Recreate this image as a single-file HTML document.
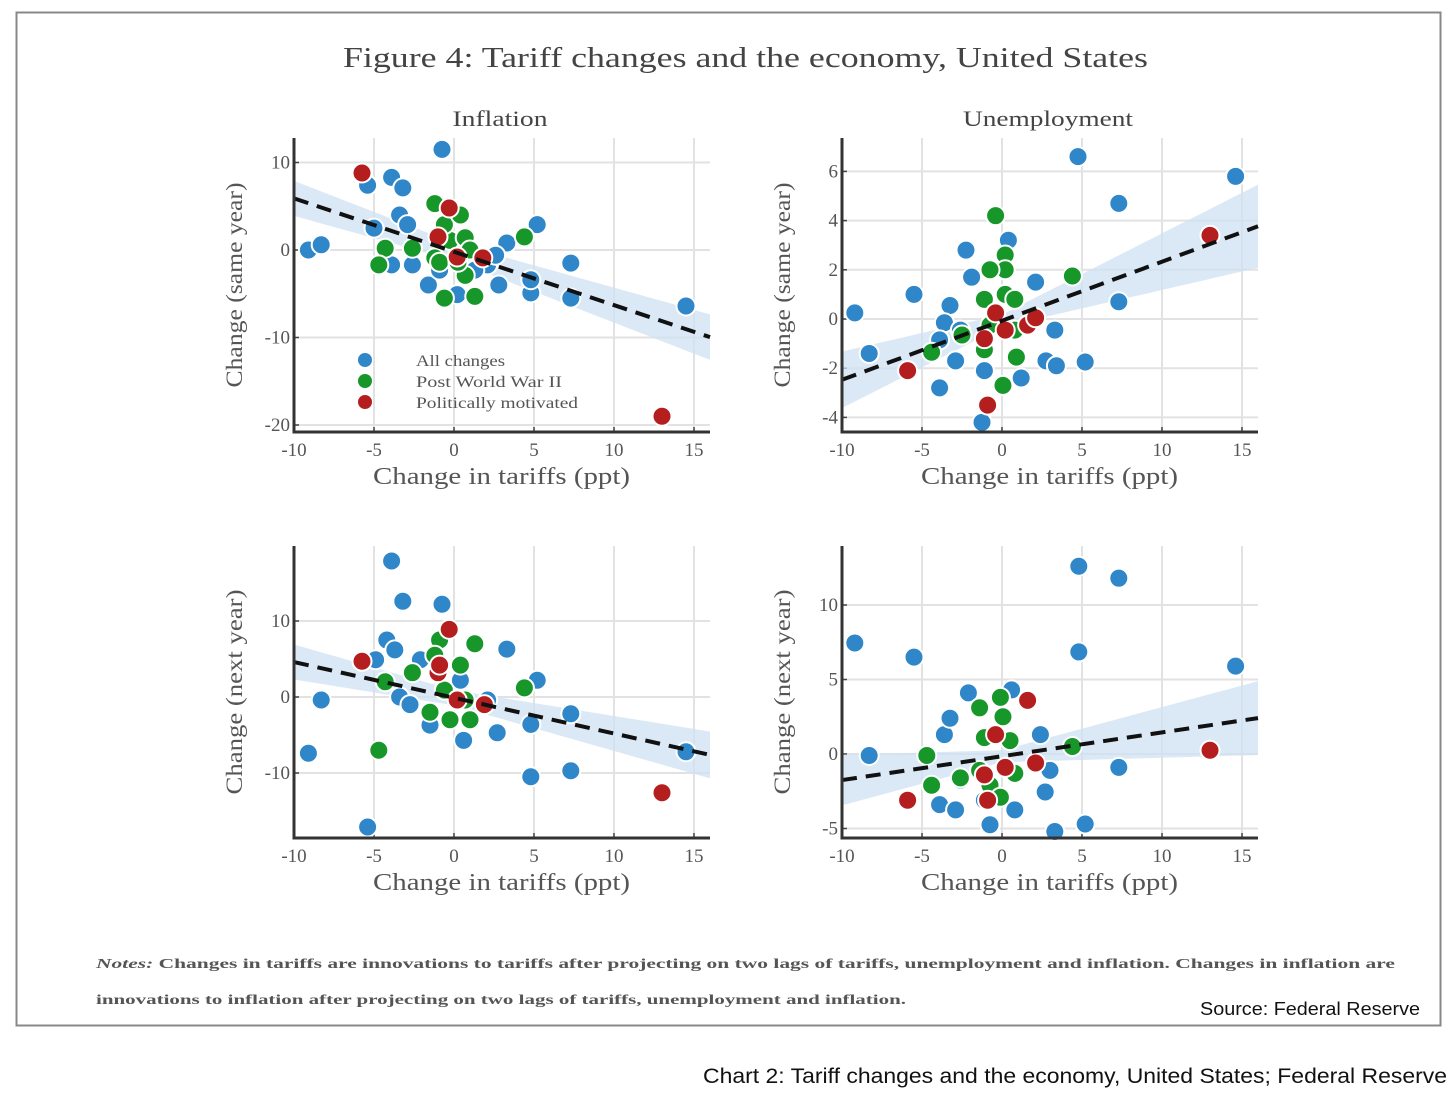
<!DOCTYPE html>
<html><head><meta charset="utf-8">
<style>
html,body{margin:0;padding:0;background:#fff;}
body{width:1456px;height:1093px;position:relative;overflow:hidden;}
svg{position:absolute;left:0;top:0;}
</style></head>
<body>
<svg id="chart" width="1456" height="1093" xmlns="http://www.w3.org/2000/svg">
<rect x="16.5" y="12.5" width="1424" height="1013" fill="#fff" stroke="#888" stroke-width="2"/>
<text x="343" y="67" textLength="805" lengthAdjust="spacingAndGlyphs" font-family="Liberation Serif, serif" font-size="29" fill="#444">Figure 4:  Tariff changes and the economy, United States</text>
<text x="96" y="968" textLength="1299" lengthAdjust="spacingAndGlyphs" font-family="Liberation Serif, serif" font-size="13.5" font-weight="bold" fill="#555"><tspan font-style="italic">Notes:</tspan>  Changes in tariffs are innovations to tariffs after projecting on two lags of tariffs, unemployment and inflation.  Changes in inflation are</text>
<text x="96" y="1004" textLength="810" lengthAdjust="spacingAndGlyphs" font-family="Liberation Serif, serif" font-size="13.5" font-weight="bold" fill="#555">innovations to inflation after projecting on two lags of tariffs, unemployment and inflation.</text>
<text x="1200" y="1015" textLength="220" lengthAdjust="spacingAndGlyphs" font-family="Liberation Sans, sans-serif" font-size="18" fill="#111">Source: Federal Reserve</text>
<text x="703" y="1083" textLength="744" lengthAdjust="spacingAndGlyphs" font-family="Liberation Sans, sans-serif" font-size="21" fill="#111">Chart 2: Tariff changes and the economy, United States; Federal Reserve</text>
</svg>
<script>
// ---- Panel 1: Inflation, same year ----
const p1BlueX=[-9.1,-8.3,-5.4,-3.9,-3.2,-0.75,-5,-3.4,-2.9,-3.9,-2.6,-1.6,0.2,2.1,2.8,3.3,5.2,4.8,4.8,7.3,7.3,14.5,-0.9,1.3,2.6];
const p1BlueY=[0,0.6,7.4,8.3,7.1,11.5,2.5,4,2.9,-1.7,-1.7,-4,-5.1,-1.7,-4,0.8,2.9,-4.9,-3.4,-1.5,-5.5,-6.4,-2.3,-2.3,-0.6];
const p1GreenX=[-4.3,-4.7,-2.6,-1.2,-0.6,1.3,4.4,0.7,-1.2,-0.25,0.7,1,-0.6,0.4,-0.9,0.25];
const p1GreenY=[0.2,-1.7,0.2,5.3,-5.5,-5.3,1.5,-2.9,-0.9,1.1,1.4,0,2.9,4,-1.4,-1.4];
const p1RedX=[-5.75,-0.3,-1,0.2,1.8,13];
const p1RedY=[8.8,4.8,1.5,-0.8,-0.9,-19];
const p1Fit=[-0.2,-0.61];
const p1YTicks=[10,0,-10,-20];
// ---- Panel 2: Unemployment, same year ----
const p2BlueX=[-9.2,-8.3,-5.5,-2.25,-1.9,-3.25,-3.6,-2.9,-3.9,0.4,2.1,3.3,2.75,3.4,1.2,5.2,4.75,7.3,7.3,14.6,-1.25,-1.1,-2.6,-3.9];
const p2BlueY=[0.25,-1.4,1,2.8,1.7,0.55,-0.15,-1.7,-2.8,3.2,1.5,-0.45,-1.7,-1.9,-2.4,-1.75,6.6,4.7,0.7,5.8,-4.2,-2.1,-0.45,-0.85];
const p2GreenX=[-0.4,0.2,0.2,-0.75,0.2,-1.1,0.8,-2.5,-4.4,0.06,0.9,-1.1,4.4,-0.75,0.8];
const p2GreenY=[4.2,2.6,2,2,1,0.8,0.8,-0.65,-1.35,-2.7,-1.55,-1.25,1.75,-0.25,-0.45];
const p2RedX=[-5.9,-0.9,-0.4,-1.1,0.2,1.6,2.1,13];
const p2RedY=[-2.1,-3.5,0.25,-0.8,-0.45,-0.25,0.05,3.4];
const p2Fit=[-0.07,0.24];
const p2YTicks=[6,4,2,0,-2,-4];
// ---- Panel 3: Inflation, next year ----
const p3BlueX=[-9.1,-8.3,-3.9,-3.2,-0.75,-4.2,-3.7,-4.9,-5.4,-3.4,-2.75,-1.5,0.6,2.7,3.3,5.2,4.8,4.8,7.3,7.3,14.5,2.1,-2.1,0.4];
const p3BlueY=[-7.4,-0.4,17.9,12.6,12.2,7.5,6.2,4.9,-17.1,0,-1,-3.7,-5.7,-4.7,6.3,2.2,-3.6,-10.5,-2.2,-9.7,-7.2,-0.4,4.9,2.2];
const p3GreenX=[-4.3,-4.7,-2.6,1.3,4.4,-0.9,-1.2,-0.25,1,-0.6,0.7,-1.5,0.4];
const p3GreenY=[2,-7,3.2,7,1.2,7.5,5.5,-3,-3,0.9,-0.4,-2,4.2];
const p3RedX=[-5.75,-0.3,-1,-0.9,0.2,1.9,13];
const p3RedY=[4.7,8.9,3.2,4.2,-0.4,-1,-12.6];
const p3Fit=[-0.1,-0.47];
const p3YTicks=[10,0,-10];
// ---- Panel 4: Unemployment, next year ----
const p4BlueX=[-9.2,-8.3,-5.5,4.8,7.3,4.8,14.6,7.3,5.2,3.3,2.7,-3.9,-2.9,-0.75,-2.1,0.6,2.4,-3.6,-3.25,3,-1.1,0.8,-2.6];
const p4BlueY=[7.45,-0.1,6.5,12.6,11.8,6.85,5.9,-0.9,-4.7,-5.2,-2.55,-3.4,-3.75,-4.75,4.1,4.3,1.3,1.3,2.4,-1.1,-3.1,-3.75,-1.75];
const p4GreenX=[-4.7,-4.4,-2.6,-0.1,-1.4,0.06,-1.1,0.5,4.4,-1.4,0.8,-0.75,-0.1];
const p4GreenY=[-0.1,-2.1,-1.6,3.8,3.1,2.5,1.1,0.9,0.5,-1.1,-1.3,-2.1,-2.9];
const p4RedX=[-5.9,-0.9,-0.4,-1.1,0.2,1.6,2.1,13];
const p4RedY=[-3.1,-3.1,1.3,-1.4,-0.9,3.6,-0.6,0.25];
const p4Fit=[-0.15,0.16];
const p4YTicks=[10,5,0,-5];
const xTicks=[-10,-5,0,5,10,15];

const NS="http://www.w3.org/2000/svg";
const svg=document.getElementById('chart');
function mk(tag,attrs,parent){const e=document.createElementNS(NS,tag);for(const k in attrs)e.setAttribute(k,attrs[k]);(parent||svg).appendChild(e);return e;}

const panels=[
 {id:'inflation-same-year',title:'Inflation',tw:95,ylab:'Change (same year)',L:294,R:710,T:138,B:432,x0:454,xs:16,y0:250,ys:8.75,yt:p1YTicks,blue:[p1BlueX,p1BlueY],green:[p1GreenX,p1GreenY],red:[p1RedX,p1RedY],fit:p1Fit,band:[1.0,0.1],legend:true},
 {id:'unemployment-same-year',title:'Unemployment',tw:170,ylab:'Change (same year)',L:842,R:1258,T:138,B:432,x0:1002,xs:16,y0:319,ys:24.6,yt:p2YTicks,blue:[p2BlueX,p2BlueY],green:[p2GreenX,p2GreenY],red:[p2RedX,p2RedY],fit:p2Fit,band:[0.25,0.09]},
 {id:'inflation-next-year',title:'',ylab:'Change (next year)',L:294,R:710,T:546,B:838,x0:454,xs:16,y0:697,ys:7.6,yt:p3YTicks,blue:[p3BlueX,p3BlueY],green:[p3GreenX,p3GreenY],red:[p3RedX,p3RedY],fit:p3Fit,band:[1.0,0.13]},
 {id:'unemployment-next-year',title:'',ylab:'Change (next year)',L:842,R:1258,T:546,B:838,x0:1002,xs:16,y0:754,ys:14.9,yt:p4YTicks,blue:[p4BlueX,p4BlueY],green:[p4GreenX,p4GreenY],red:[p4RedX,p4RedY],fit:p4Fit,band:[0.4,0.13]}
];
const colors={blue:'#2f86c8',green:'#17972a',red:'#b41e1e'};

panels.forEach(p=>{
 const X=v=>p.x0+v*p.xs, Y=v=>p.y0-v*p.ys;
 const g=mk('g',{});
 
 
 const cp=mk('clipPath',{id:'clip-'+p.id},g);
 mk('rect',{x:p.L,y:p.T,width:p.R-p.L,height:p.B-p.T},cp);
 xTicks.forEach(t=>{const l=mk('line',{x1:X(t),x2:X(t),y1:p.T,y2:p.B,stroke:'#e2e2e2','stroke-width':2},g);
  
  const tx=mk('text',{x:X(t),y:p.B+24,'text-anchor':'middle','font-family':'Liberation Serif, serif','font-size':19,fill:'#555'},g);tx.textContent=t;
  
  mk('line',{x1:X(t),x2:X(t),y1:p.B-5,y2:p.B,stroke:'#444','stroke-width':1.5},g);});
 p.yt.forEach(t=>{const l=mk('line',{x1:p.L,x2:p.R,y1:Y(t),y2:Y(t),stroke:'#e2e2e2','stroke-width':2},g);
  
  const tx=mk('text',{x:p.L-4,y:Y(t)+6,'text-anchor':'end','font-family':'Liberation Serif, serif','font-size':19,fill:'#555'},g);tx.textContent=t;
  
  mk('line',{x1:p.L,x2:p.L+5,y1:Y(t),y2:Y(t),stroke:'#444','stroke-width':1.5},g);});
 const xa=(p.L-p.x0)/p.xs, xb=(p.R-p.x0)/p.xs;
 const pts=[],pts2=[];
 for(let i=0;i<=40;i++){const xv=xa+(xb-xa)*i/40;const yv=p.fit[0]+p.fit[1]*xv;const h=p.band[0]+p.band[1]*Math.abs(xv);
  pts.push(X(xv)+','+Y(yv+h));pts2.unshift(X(xv)+','+Y(yv-h));}
 const band=mk('polygon',{points:pts.concat(pts2).join(' '),fill:'#cfe2f3','fill-opacity':0.75,'clip-path':'url(#clip-'+p.id+')'},g);
 
 ['blue','green','red'].forEach(c=>{const [xs,ys]=p[c];xs.forEach((xv,i)=>{
  const ci=mk('circle',{cx:X(xv),cy:Y(ys[i]),r:9.5,fill:colors[c],stroke:'#fff','stroke-width':2},g);
  });});
 const fl=mk('line',{x1:X(xa),y1:Y(p.fit[0]+p.fit[1]*xa),x2:X(xb),y2:Y(p.fit[0]+p.fit[1]*xb),stroke:'#111','stroke-width':4,'stroke-dasharray':'15,9'},g);
 
 const ax=mk('path',{d:`M${p.L},${p.T} V${p.B} H${p.R}`,fill:'none',stroke:'#333','stroke-width':3},g);
 
 const xl=mk('text',{x:p.L+79,y:p.B+52,textLength:257,lengthAdjust:'spacingAndGlyphs','font-family':'Liberation Serif, serif','font-size':24,fill:'#555'},g);xl.textContent='Change in tariffs (ppt)';
 
 const yl=mk('text',{x:0,y:0,transform:`translate(${p.L-52},${(p.T+p.B)/2}) rotate(-90)`,'text-anchor':'middle',textLength:205,lengthAdjust:'spacingAndGlyphs','font-family':'Liberation Serif, serif','font-size':23,fill:'#555'},g);yl.textContent=p.ylab;
 
 if(p.title){const t=mk('text',{x:(p.L+p.R)/2-p.tw/2-2,y:p.T-12,textLength:p.tw,lengthAdjust:'spacingAndGlyphs','font-family':'Liberation Serif, serif','font-size':22,fill:'#444'},g);t.textContent=p.title;
  }
 if(p.legend){[['blue','All changes',89],['green','Post World War II',146],['red','Politically motivated',162]].forEach((e,i)=>{
  const lg=mk('g',{},g);
  
  mk('circle',{cx:365,cy:360+i*21,r:7,fill:colors[e[0]]},lg);
  const t=mk('text',{x:416,y:366+i*21,textLength:e[2],lengthAdjust:'spacingAndGlyphs','font-family':'Liberation Serif, serif','font-size':16,fill:'#555'},lg);t.textContent=e[1];});}
});
</script>
</body></html>
